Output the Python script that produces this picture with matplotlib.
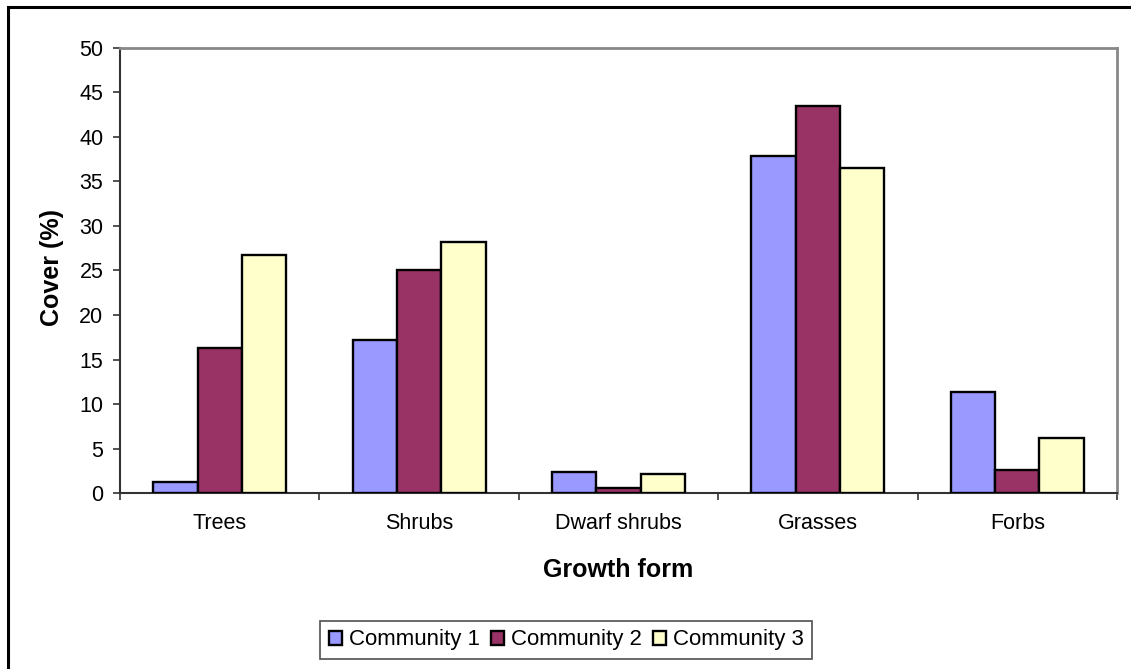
import matplotlib.pyplot as plt
import numpy as np
from matplotlib.patches import Rectangle

plt.rcParams['font.family'] = ['Liberation Sans', 'DejaVu Sans']

# cover (%) of each growth form in the three communities
forms = ['Trees', 'Shrubs', 'Dwarf shrubs', 'Grasses', 'Forbs']
community1 = [1.3, 17.2, 2.4, 37.9, 11.4]
community2 = [16.3, 25.1, 0.6, 43.5, 2.6]
community3 = [26.7, 28.2, 2.2, 36.5, 6.2]
series_names = ['Community 1', 'Community 2', 'Community 3']
colors = ['#9999FF', '#993366', '#FFFFCC']

W, H = 1131, 669
fig = plt.figure(figsize=(W / 100, H / 100), dpi=100)
ax = fig.add_axes([120 / W, 1 - 493.3 / H, 997 / W, 445.6 / H])

# outer chart border (only top and left edges fall inside the image)
fig.patches.append(Rectangle((8 / W, -0.1), 1.2, 1.1 - 7.5 / H, transform=fig.transFigure,
                             fill=False, edgecolor='black', linewidth=2.2))

x = np.arange(len(forms))
bw = 1 / 4.5
for i, (vals, name, c) in enumerate(zip([community1, community2, community3], series_names, colors)):
    ax.bar(x + (i - 1) * bw, vals, width=bw, color=c, edgecolor='black',
           linewidth=1.7, label=name, zorder=3)

ax.set_xlim(-0.5, len(forms) - 0.5)
ax.set_ylim(0, 50)
ax.set_yticks(np.arange(0, 51, 5))
ax.tick_params(axis='y', labelsize=15.5, length=5, width=1.2, color='#333333', pad=7)

# category boundaries get the tick marks, labels sit at the centres
ax.set_xticks(np.arange(-0.5, len(forms), 1.0))
ax.set_xticklabels([])
ax.set_xticks(x, minor=True)
ax.set_xticklabels(forms, minor=True, fontsize=15.5)
ax.tick_params(axis='x', which='major', length=5, width=1.2, color='#333333')
ax.tick_params(axis='x', which='minor', length=0, pad=14)

for s in ['left', 'bottom']:
    ax.spines[s].set_color('#333333')
    ax.spines[s].set_linewidth(1.5)
for s in ['top', 'right']:
    ax.spines[s].set_color('#888888')
    ax.spines[s].set_linewidth(2)

fig.text(52 / W, 1 - 268 / H, 'Cover (%)', rotation=90, ha='center', va='center',
         fontsize=18, fontweight='bold')
fig.text(618 / W, 1 - 570 / H, 'Growth form', ha='center', va='center',
         fontsize=18, fontweight='bold')

leg = fig.legend(loc='center', bbox_to_anchor=(566 / W, 1 - 640 / H), ncol=3,
                 fontsize=16, frameon=True, fancybox=False, handlelength=0.6,
                 handleheight=0.6, handletextpad=0.3, columnspacing=0.5,
                 borderpad=0.4, borderaxespad=0)
leg.get_frame().set_edgecolor('#222222')
leg.get_frame().set_linewidth(1.2)

fig.savefig('out.png', dpi=100)
